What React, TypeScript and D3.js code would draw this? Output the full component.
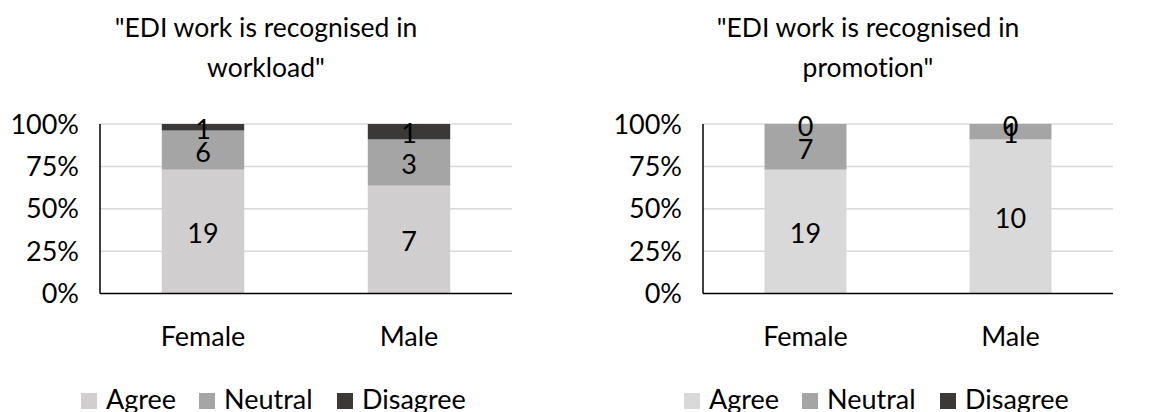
import React from "react";
import * as d3 from "d3";

// Survey responses by gender, counts per answer
const categories = ["Female", "Male"];
const seriesNames = ["Agree", "Neutral", "Disagree"];

const workloadAgree = [19, 7];
const workloadNeutral = [6, 3];
const workloadDisagree = [1, 1];

const promotionAgree = [19, 10];
const promotionNeutral = [7, 1];
const promotionDisagree = [0, 0];

const yTicks = [0, 0.25, 0.5, 0.75, 1];

const workloadTitle = ['"EDI work is recognised in', 'workload"'];
const promotionTitle = ['"EDI work is recognised in', 'promotion"'];

const FONT = "Lato, 'Open Sans', sans-serif";
const FS = 27;
const TITLE_FS = 26.5;

type Panel = {
  title: string[];
  agree: number[];
  neutral: number[];
  disagree: number[];
  colors: string[];
  x0: number;
  x1: number;
  titleX: number;
  legendX: number;
};

const panels: Panel[] = [
  {
    title: workloadTitle,
    agree: workloadAgree,
    neutral: workloadNeutral,
    disagree: workloadDisagree,
    colors: ["#d0cece", "#a5a5a5", "#3b3838"],
    x0: 100,
    x1: 512,
    titleX: 266,
    legendX: 81,
  },
  {
    title: promotionTitle,
    agree: promotionAgree,
    neutral: promotionNeutral,
    disagree: promotionDisagree,
    colors: ["#d9d9d9", "#a5a5a5", "#3b3838"],
    x0: 703,
    x1: 1113,
    titleX: 868,
    legendX: 684,
  },
];

const legendOffsets = [0, 118, 256];
const yTop = 124;
const yBottom = 293.5;

function ChartPanel({ p }: { p: Panel }) {
  const rows = categories.map((c, i) => ({
    cat: c,
    Agree: p.agree[i],
    Neutral: p.neutral[i],
    Disagree: p.disagree[i],
  }));
  const stack = d3
    .stack<any>()
    .keys(seriesNames)
    .offset(d3.stackOffsetExpand);
  const layers = stack(rows);

  const x = d3
    .scaleBand<string>()
    .domain(categories)
    .range([p.x0, p.x1])
    .paddingInner(0.6)
    .paddingOuter(0.3);
  const y = d3.scaleLinear().domain([0, 1]).range([yBottom, yTop]);
  const pct = d3.format(".0%");

  return (
    <g>
      {p.title.map((t, i) => (
        <text
          key={i}
          x={p.titleX}
          y={37 + i * 40}
          textAnchor="middle"
          fontSize={TITLE_FS}
          fill="#000"
        >
          {t}
        </text>
      ))}
      {yTicks.map((t) => (
        <g key={t}>
          {t > 0 && (
            <line
              x1={p.x0}
              x2={p.x1}
              y1={y(t)}
              y2={y(t)}
              stroke="#d9d9d9"
              strokeWidth={1.5}
            />
          )}
          <text
            x={p.x0 - 21}
            y={y(t)}
            dy="0.36em"
            textAnchor="end"
            fontSize={FS}
            fill="#000"
          >
            {pct(t)}
          </text>
        </g>
      ))}
      {layers.map((layer, li) =>
        layer.map((d, i) => (
          <rect
            key={`${li}-${i}`}
            x={x(categories[i])}
            width={x.bandwidth()}
            y={y(d[1])}
            height={y(d[0]) - y(d[1])}
            fill={p.colors[li]}
          />
        ))
      )}
      {layers.map((layer, li) =>
        layer.map((d, i) => (
          <text
            key={`l${li}-${i}`}
            x={(x(categories[i]) as number) + x.bandwidth() / 2}
            y={y((d[0] + d[1]) / 2) + 2}
            dy="0.36em"
            textAnchor="middle"
            fontSize={FS}
            fill="#000"
          >
            {(d.data as any)[seriesNames[li]]}
          </text>
        ))
      )}
      <line
        x1={p.x0}
        x2={p.x0}
        y1={yTop}
        y2={yBottom}
        stroke="#000"
        strokeWidth={1.5}
      />
      <line
        x1={p.x0}
        x2={p.x1}
        y1={yBottom}
        y2={yBottom}
        stroke="#000"
        strokeWidth={1.5}
      />
      {categories.map((c) => (
        <text
          key={c}
          x={(x(c) as number) + x.bandwidth() / 2}
          y={346}
          textAnchor="middle"
          fontSize={FS}
          fill="#000"
        >
          {c}
        </text>
      ))}
      {seriesNames.map((s, i) => (
        <g key={s} transform={`translate(${p.legendX + legendOffsets[i]},0)`}>
          <rect x={0} y={393} width={16} height={16} fill={p.colors[i]} />
          <text x={25} y={409} fontSize={FS} fill="#000">
            {s}
          </text>
        </g>
      ))}
    </g>
  );
}

export default function App() {
  return (
    <svg
      width={1164}
      height={412}
      style={{
        position: "absolute",
        left: 0,
        top: 0,
        background: "#fff",
        fontVariantLigatures: "none",
      }}
      fontFamily={FONT}
    >
      <rect width={1164} height={412} fill="#fff" />
      {panels.map((p, i) => (
        <ChartPanel key={i} p={p} />
      ))}
    </svg>
  );
}
